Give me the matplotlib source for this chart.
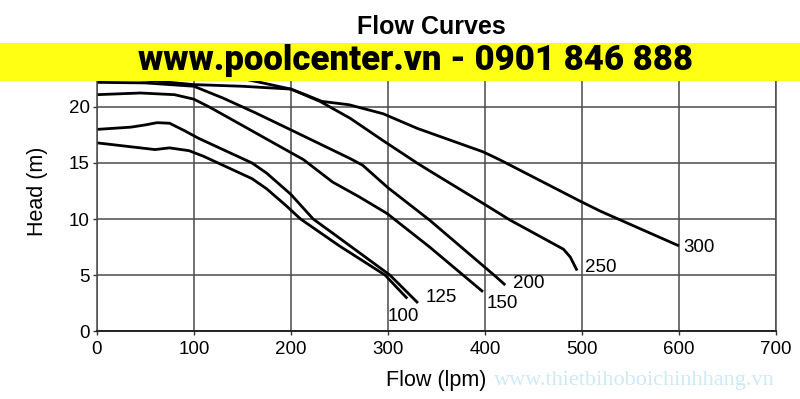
import matplotlib
matplotlib.use("Agg")
import matplotlib.pyplot as plt
from matplotlib.patches import Rectangle

# ---- data ----
x100 = [0, 30, 60, 75, 95, 110, 125, 160, 175, 195, 210, 250, 297, 320]
y100 = [16.8, 16.5, 16.2, 16.35, 16.1, 15.6, 15.0, 13.6, 12.7, 11.2, 10.0, 7.6, 5.0, 2.9]

x125 = [0, 35, 50, 62, 75, 90, 105, 130, 160, 175, 200, 223, 250, 302, 331]
y125 = [18.0, 18.2, 18.4, 18.6, 18.55, 17.9, 17.2, 16.2, 15.0, 14.1, 12.2, 10.0, 8.3, 5.0, 2.5]

x150 = [0, 45, 80, 100, 116, 147, 182, 213, 243, 270, 299, 343, 398]
y150 = [21.1, 21.25, 21.1, 20.7, 20.0, 18.5, 16.8, 15.3, 13.3, 12.0, 10.5, 7.5, 3.5]

x200 = [0, 50, 100, 130, 163, 199, 230, 261, 274, 300, 343, 412, 421]
y200 = [22.2, 22.15, 21.85, 20.8, 19.5, 18.0, 16.7, 15.4, 14.8, 12.8, 9.9, 4.8, 4.1]

x250 = [0, 80, 147, 200, 230, 261, 295, 330, 343, 398, 426, 481, 488, 495]
y250 = [23.6, 23.3, 22.6, 21.6, 20.5, 19.0, 17.0, 15.0, 14.3, 11.4, 9.9, 7.3, 6.6, 5.4]

x300 = [0, 50, 100, 150, 200, 215, 232, 260, 295, 330, 398, 415, 498, 519, 600]
y300 = [22.7, 22.4, 22.0, 21.85, 21.6, 21.1, 20.5, 20.2, 19.4, 18.1, 16.0, 15.3, 11.6, 10.7, 7.6]

curve_names = ["100", "125", "150", "200", "250", "300"]
label_x = [300, 339, 402, 429, 503, 604]
label_y = [1.3, 2.95, 2.5, 4.2, 5.7, 7.5]

x_ticks = [0, 100, 200, 300, 400, 500, 600, 700]
y_ticks = [0, 5, 10, 15, 20, 25]

series = [(x100, y100), (x125, y125), (x150, y150),
          (x200, y200), (x250, y250), (x300, y300)]

# ---- figure ----
fig = plt.figure(figsize=(8.0, 3.99), dpi=100)
ax = fig.add_axes([0.121, 0.1704, 0.849, 0.7018])

font = "Liberation Sans"
ax.set_xlim(0, 700)
ax.set_ylim(0, 25)
ax.set_xticks(x_ticks)
ax.set_yticks(y_ticks)
ax.grid(True, color="#4a4a4a", linewidth=1.1)
ax.set_axisbelow(True)
for s in ax.spines.values():
    s.set_color("#4a4a4a")
    s.set_linewidth(1.1)
ax.spines["bottom"].set_color("#222222")
ax.spines["bottom"].set_linewidth(1.4)
ax.tick_params(axis="both", length=3, width=1, color="#333333",
               labelsize=13.5, pad=2)
ax.tick_params(axis="x", pad=4)
for lab in ax.get_xticklabels() + ax.get_yticklabels():
    lab.set_fontfamily(font)

for (xs, ys) in series:
    ax.plot(xs, ys, color="black", linewidth=2.0, solid_capstyle="butt",
            solid_joinstyle="round")

for name, lx, ly in zip(curve_names, label_x, label_y):
    ax.text(lx, ly, name, fontsize=13.5, fontfamily=font,
            ha="left", va="center", color="black")

ax.set_xlabel("Flow (lpm)", fontsize=15.5, fontfamily=font, labelpad=9)
ax.set_ylabel("Head (m)", fontsize=15.5, fontfamily=font, labelpad=15)

fig.text(0.539, 0.932, "Flow Curves", fontsize=18, fontweight="bold",
         fontfamily=font, ha="center", va="center")

# yellow banner on top of everything
fig.add_artist(Rectangle((0, 0.797), 1.0, 0.095, transform=fig.transFigure,
                         facecolor="#ffff14", edgecolor="none", zorder=10))
fig.text(0.52, 0.8246, "www.poolcenter.vn - 0901 846 888", fontsize=25,
         fontweight="heavy", fontfamily="Roboto", ha="center", va="baseline",
         color="black", zorder=11)

# watermark
fig.text(0.968, 0.035, "www.thietbihoboichinhhang.vn", fontsize=16,
         fontfamily="Liberation Serif", ha="right", va="baseline",
         color="#cfe9f5", zorder=11)

fig.savefig("out.png", dpi=100)
